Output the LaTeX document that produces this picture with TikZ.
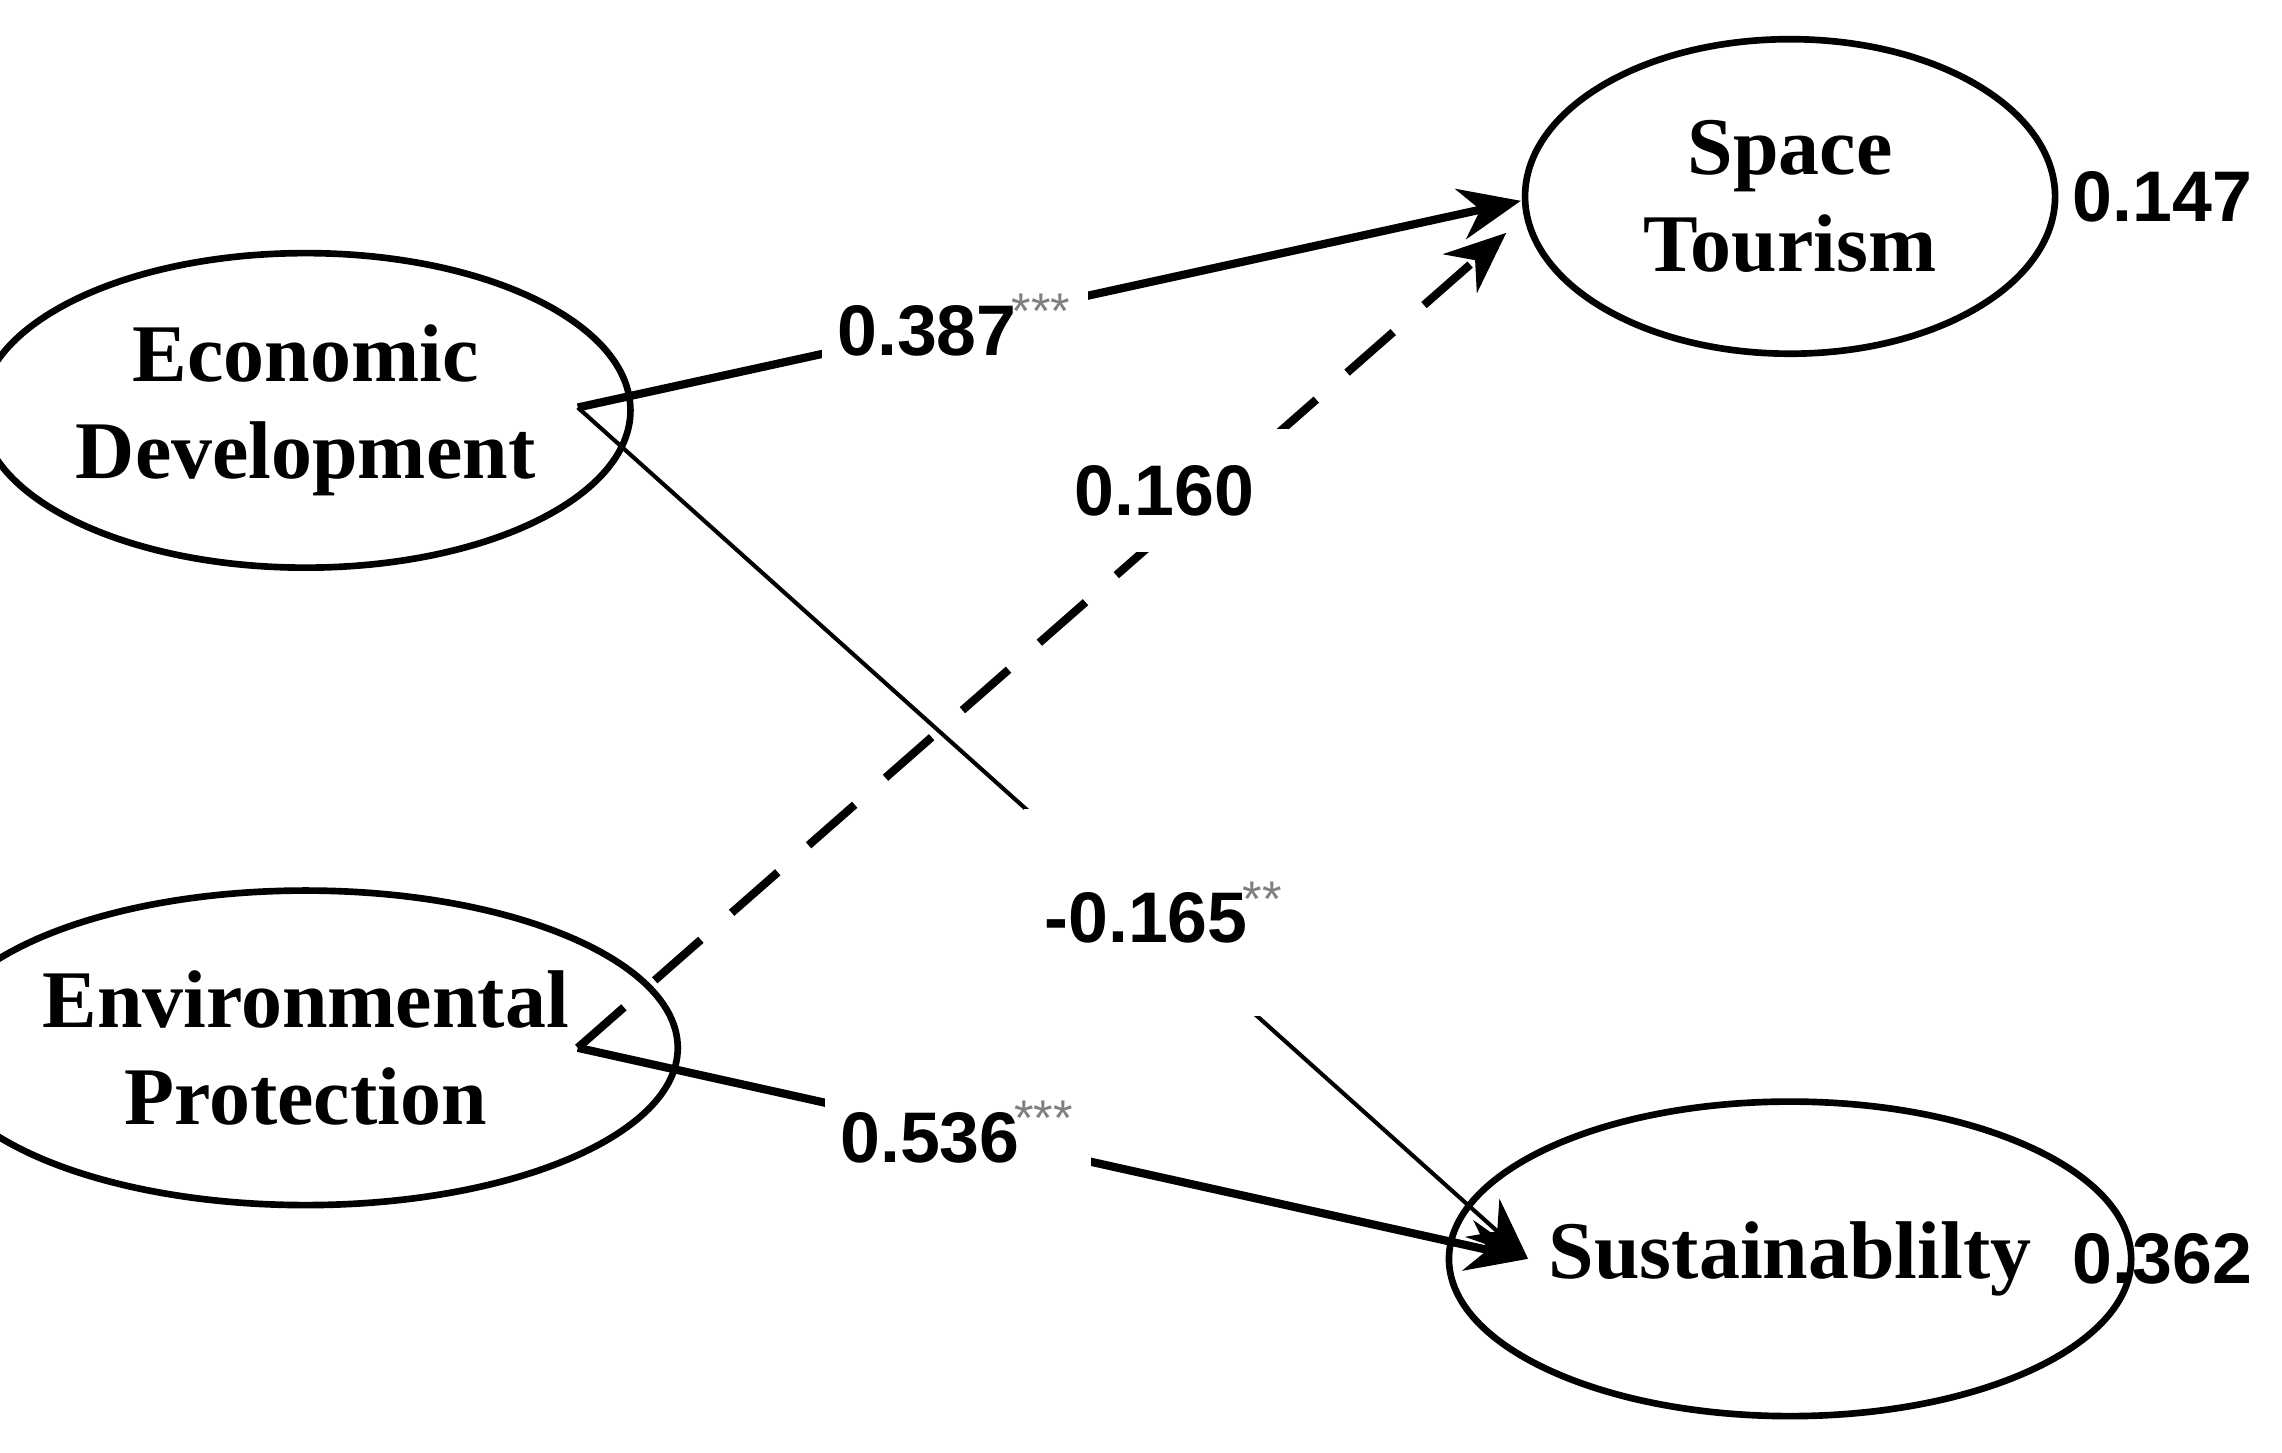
\documentclass[tikz,border=0pt]{standalone}
\usepackage{fontspec}
\setmainfont{Liberation Serif}
\newfontfamily\numfont{Liberation Sans}
\usetikzlibrary{arrows.meta,shapes.geometric}
\begin{document}
\begin{tikzpicture}[x=0.01cm,y=-0.01cm,
 lat/.style={draw,ellipse,line width=1.3pt,minimum width=3.7cm,minimum height=2.16cm,align=center,font=\fontsize{16}{19}\selectfont\bfseries,inner sep=0pt},
 lbl/.style={font=\numfont\fontsize{14}{17}\selectfont\bfseries,fill=white,inner sep=3pt},
 thick path/.style={line width=1.6pt},
 tip/.style={-{Stealth[length=12pt,width=10pt]}}]
\useasboundingbox (0,0) rectangle (1568,998);
\node[lat] (ed) at (210,282) {Economic\\Development};
\node[lat] (ep) at (210,720) {Environmental\\Protection};
\node[lat,minimum width=3.64cm] (st) at (1230,135) {Space\\Tourism};
\node[lat,minimum width=3.64cm] (su) at (1230,865) {Sustainablilty};
\node[font=\numfont\fontsize{14}{17}\selectfont\bfseries,anchor=west,inner sep=1pt] (r1) at (1420,135) {0.147};
\node[font=\numfont\fontsize{14}{17}\selectfont\bfseries,anchor=west,inner sep=1pt] (r2) at (1420,865) {0.362};
\coordinate (edr) at (397,280);
\coordinate (epr) at (397,720);
\coordinate (stl) at (1045,138);
\coordinate (stl2) at (1035,160);
\coordinate (sul) at (1050,865);
\draw[thick path,tip] (edr) -- node[lbl,pos=0.4] (l1) {0.387\textsuperscript{\kern-1pt\textcolor{gray}{\mdseries***}}} (stl);
\draw[thick path,tip] (epr) -- node[lbl,pos=0.4] (l4) {0.536\textsuperscript{\kern-1pt\textcolor{gray}{\mdseries***}}} (sul);
\draw[line width=1.6pt,dash pattern=on 12pt off 8pt,tip] (epr) -- (stl2);
\draw[line width=0.8pt,tip] (edr) -- (sul);
\node[lbl,inner sep=0.25cm] (l2) at (800,337) {0.160};
\node[lbl,inner xsep=4pt,inner ysep=0.5cm] (l3) at (800,627) {-0.165\textsuperscript{\kern-1pt\textcolor{gray}{\mdseries**}}};
\end{tikzpicture}
\end{document}
